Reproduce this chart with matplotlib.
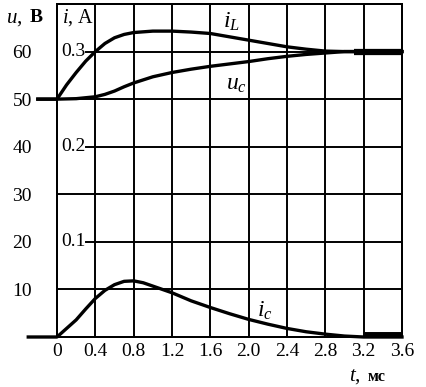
import matplotlib
matplotlib.use("Agg")
import matplotlib.pyplot as plt

plt.rcParams['font.family'] = ['Liberation Serif', 'DejaVu Serif']
plt.rcParams['mathtext.fontset'] = 'custom'
plt.rcParams['mathtext.it'] = 'Liberation Serif:italic'
plt.rcParams['mathtext.rm'] = 'Liberation Serif'
plt.rcParams['mathtext.bf'] = 'Liberation Serif:bold'

# time, ms
x_ticks = [0, 0.4, 0.8, 1.2, 1.6, 2.0, 2.4, 2.8, 3.2, 3.6]
x_tick_labels = ["0", "0.4", "0.8", "1.2", "1.6", "2.0", "2.4", "2.8", "3.2", "3.6"]
u_ticks = [10, 20, 30, 40, 50, 60]
i_ticks = [0.1, 0.2, 0.3]

# inductor current i_L, A
t_iL = [-0.2, 0, 0.1, 0.2, 0.3, 0.4, 0.5, 0.6, 0.7, 0.8, 1.0, 1.2, 1.4, 1.6, 1.8,
        2.0, 2.2, 2.4, 2.6, 2.8, 3.0, 3.6]
iL = [0.25, 0.25, 0.265, 0.278, 0.29, 0.30, 0.3085, 0.3145, 0.318, 0.32, 0.3215,
      0.3215, 0.3205, 0.319, 0.3155, 0.312, 0.3085, 0.305, 0.3025, 0.3005, 0.30, 0.30]

# capacitor voltage u_c, V
t_uc = [-0.2, 0, 0.2, 0.4, 0.5, 0.6, 0.7, 0.8, 1.0, 1.2, 1.4, 1.6, 1.8, 2.0, 2.2,
        2.4, 2.6, 2.8, 3.0, 3.6]
uc = [50, 50, 50.1, 50.5, 51.0, 51.7, 52.6, 53.4, 54.7, 55.6, 56.3, 56.9, 57.4,
      57.9, 58.5, 59.0, 59.4, 59.7, 60.0, 60.0]

# capacitor current i_c, A
t_ic = [-0.3, 0, 0.1, 0.2, 0.3, 0.4, 0.5, 0.6, 0.7, 0.8, 0.9, 1.0, 1.2, 1.4, 1.6,
        1.8, 2.0, 2.2, 2.4, 2.6, 2.8, 3.0, 3.2, 3.6]
ic = [0, 0, 0.009, 0.018, 0.0295, 0.0405, 0.049, 0.055, 0.0585, 0.059, 0.057,
      0.0535, 0.0465, 0.038, 0.031, 0.0245, 0.0185, 0.0135, 0.009, 0.0055, 0.003,
      0.001, 0, 0]

W, H = 427, 387
fig = plt.figure(figsize=(W / 100, H / 100), dpi=100)
ax = fig.add_axes([57 / W, 1 - 337 / H, (402 - 57) / W, (337 - 4) / H])
ax.set_xlim(0, 3.6)
ax.set_ylim(0, 70)
ai = ax.twinx()
ai.set_ylim(0, 0.35)
ai.set_yticks([])
for a in (ax, ai):
    for s in a.spines.values():
        s.set_linewidth(1.4)

# grid
glw = 1.4
for v in x_ticks[1:-1]:
    ax.plot([v, v], [0, 70], color='black', lw=glw, zorder=1)
for u in u_ticks:
    if u in (10, 30, 50):
        ax.plot([0, 3.6], [u, u], color='black', lw=glw, zorder=1)
    else:
        ax.plot([0.3, 3.6], [u, u], color='black', lw=glw, zorder=1)

ax.set_xticks(x_ticks)
ax.set_xticklabels(x_tick_labels, fontsize=14)
ax.set_yticks(u_ticks)
ax.set_yticklabels([str(u) for u in u_ticks], fontsize=14)
ax.tick_params(axis='x', length=0, pad=4)
ax.tick_params(axis='y', length=0, pad=18)

for i in i_ticks:
    ai.text(0.04, i, f"{i:.1f}", fontsize=14, ha='left', va='center')

clw = 2.4
ax.plot(t_uc, uc, color='black', lw=clw, clip_on=False, zorder=3)
ai.plot(t_iL, iL, color='black', lw=clw, clip_on=False, zorder=3)
ai.plot(t_ic, ic, color='black', lw=clw, clip_on=False, zorder=3)
ax.plot([3.1, 3.6], [60, 60], color='black', lw=4.5, solid_capstyle='butt', zorder=3)
ai.plot([3.2, 3.6], [0.002, 0.002], color='black', lw=5, solid_capstyle='butt', zorder=3)

# curve labels
ax.text(1.82, 66.3, '$i_L$', fontsize=17, ha='center', va='center')
ax.text(1.87, 53.0, '$u_c$', fontsize=17, ha='center', va='center')
ax.text(2.17, 5.6, '$i_c$', fontsize=17, ha='center', va='center')

# axis titles
fig.text(6 / W, 1 - 18 / H, '$u$,', fontsize=15, ha='left', va='center')
fig.text(30 / W, 1 - 18 / H, 'В', fontsize=14, fontweight='bold', ha='left', va='center')
fig.text(62 / W, 1 - 18 / H, '$i$, A', fontsize=14.5, ha='left', va='center')
fig.text(349 / W, 1 - 377 / H, '$t$,', fontsize=15, ha='left', va='center')
fig.text(368 / W, 1 - 377 / H, 'мс', fontsize=11.5, fontweight='bold', ha='left', va='center')

fig.savefig('out.png', dpi=100)
